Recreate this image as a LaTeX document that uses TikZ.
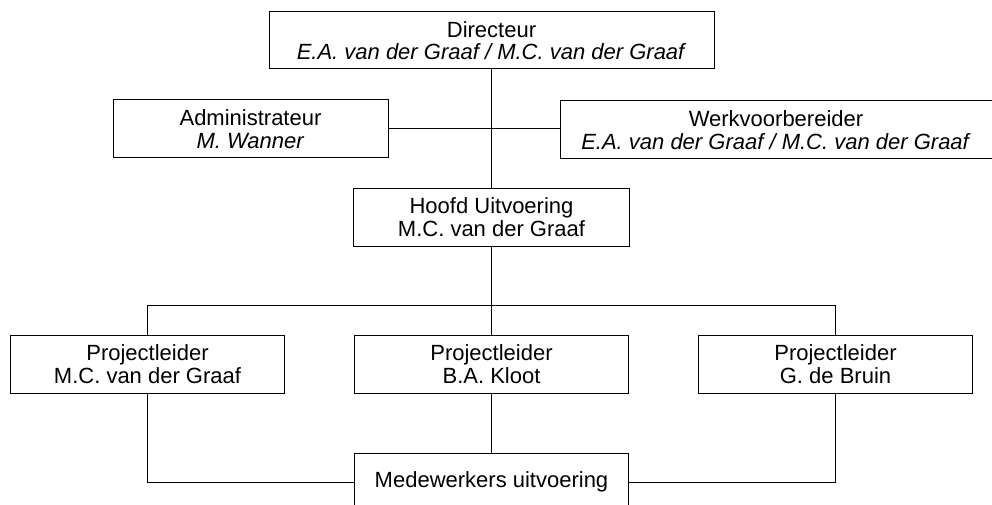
\documentclass[tikz,border=0pt]{standalone}
\usepackage{fontspec}
\setmainfont{Liberation Sans}
\usepackage{tikz}
\usetikzlibrary{
  calc,
  positioning,
}
\tikzstyle{box} = [
  draw,
  rectangle,
  line width=1pt,
  minimum width=274pt,
  minimum height=58pt,
  align=center,
  inner sep=0pt,
  font=\fontsize{22}{22.5}\selectfont,
]
\tikzstyle{link} = [
  line width=1pt,
]

\begin{document}
\begin{tikzpicture}[x=1pt, y=-1pt]
  \useasboundingbox (0,0) rectangle (992,505);
  \node [box, minimum width=445pt, minimum height=57pt] (directeur) at (491.5,40.5) {Directeur\\\textit{E.A. van der Graaf / M.C. van der Graaf}};
  \node [box, minimum width=275pt] (admin) at (250.5,129) {Administrateur\\\textit{M. Wanner}};
  \node [box, minimum width=432pt] (werkvb) at (776,130) {Werkvoorbereider\\\textit{E.A. van der Graaf / M.C. van der Graaf}};
  \node [box, minimum width=276pt, below=118pt of directeur] (hoofd) {Hoofd Uitvoering\\M.C. van der Graaf};
  \node [box, below=88pt of hoofd] (pl2) {Projectleider\\B.A. Kloot};
  \node [box, left=69pt of pl2] (pl1) {Projectleider\\M.C. van der Graaf};
  \node [box, right=69pt of pl2] (pl3) {Projectleider\\G. de Bruin};
  \node [box, below=59pt of pl2] (medewerkers) {Medewerkers uitvoering};
  \coordinate (split) at ($(hoofd.south)+(0,59)$);
  \draw [link] (directeur.south) -- (hoofd.north);
  \draw [link] (admin.east) -- (admin.east -| werkvb.west);
  \draw [link] (hoofd.south) -- (pl2.north);
  \draw [link] (pl1.north) |- (split) -| (pl3.north);
  \draw [link] (pl2.south) -- (medewerkers.north);
  \draw [link] (pl1.south) |- (medewerkers.west);
  \draw [link] (pl3.south) |- (medewerkers.east);
\end{tikzpicture}
\end{document}
